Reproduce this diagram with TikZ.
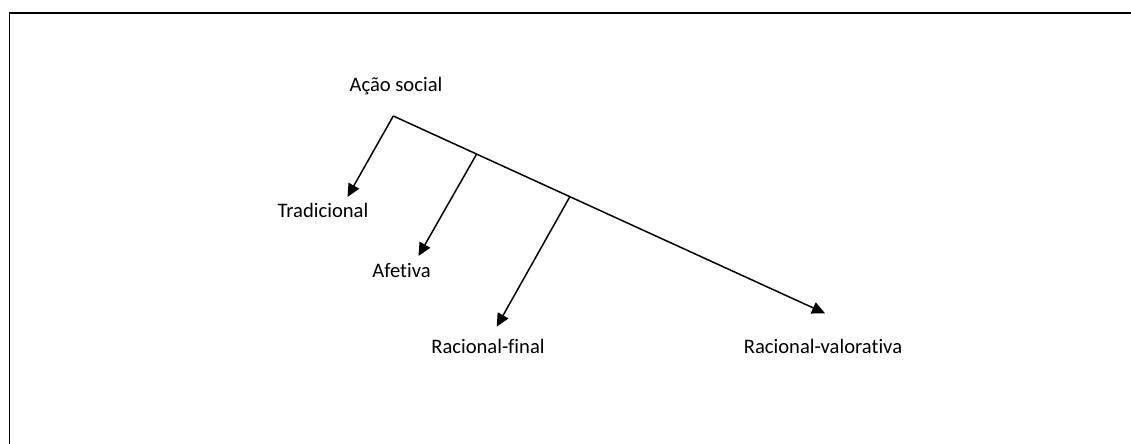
\documentclass[tikz,border=0pt]{standalone}
\usepackage{fontspec}
\setmainfont[Ligatures=NoCommon]{Carlito}
\usetikzlibrary{arrows.meta,calc}

\begin{document}
\begin{tikzpicture}[x=0.5pt,y=-0.5pt,font=\fontsize{10.3}{12}\selectfont,
  seta/.style={line width=0.75pt,-{Triangle[length=6.5pt,width=6pt]}}]
\useasboundingbox (0,0) rectangle (1131,444);
\draw[line width=0.8pt] (9.5,444)--(9.5,13)--(1131,13);
% titulo e ramos
\node[anchor=base] (acao) at (396,92){Ação social};
\coordinate (raiz) at (393.3,116);
\coordinate (pval) at (825,313.3);
\coordinate (b1) at ($(raiz)!0.193!(pval)$);
\coordinate (b2) at ($(raiz)!0.409!(pval)$);
\foreach \n/\x/\y in {ptrad/347.5/197,pafe/418.5/256,pfin/496.7/326.7}{\coordinate (\n) at (\x,\y);}
\node[anchor=base] (trad) at (323,218){Tradicional};
\node[anchor=base] (afe) at (401.5,278){Afetiva};
\node[anchor=base] (fin) at (488,353.5){Racional-final};
\node[anchor=base] (val) at (823,353.5){Racional-valorativa};
\draw[seta] (raiz)--(ptrad);
\draw[seta] (raiz)--(pval);
\draw[seta] (b1)--(pafe);
\draw[seta] (b2)--(pfin);
\end{tikzpicture}
\end{document}
